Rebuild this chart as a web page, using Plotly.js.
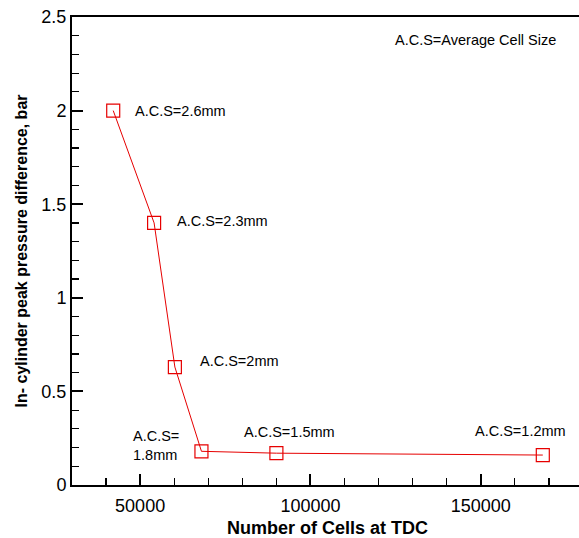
<!DOCTYPE html>
<html>
<head>
<meta charset="utf-8">
<script src="https://cdn.plot.ly/plotly-3.0.1.min.js"></script>
<style>
  html, body { margin: 0; padding: 0; overflow: hidden; background: #fff; }
  #chart { width: 590px; height: 538px; }
</style>
</head>
<body>
<div id="chart"></div>
<script>
// Data
const cellsAtTDC = [42100, 54100, 60200, 68000, 90000, 168200];
const peakPressureDiff = [2.0, 1.4, 0.63, 0.18, 0.17, 0.16];
const cellSizeLabels = ["A.C.S=2.6mm", "A.C.S=2.3mm", "A.C.S=2mm", "A.C.S=<br>1.8mm", "A.C.S=1.5mm", "A.C.S=1.2mm"];
const noteText = "A.C.S=Average Cell Size";
const xTitle = "Number of Cells at TDC";
const yTitle = "In- cylinder peak pressure difference, bar";

// label placements (data coordinates of label anchors)
const labelX = [48000, 60200, 67000, 47300, 79900, 147700];
const labelY = [2.0, 1.41, 0.66, 0.211, 0.283, 0.29];

const FONT = "Liberation Sans, Arial, Helvetica, sans-serif";

const trace = {
  x: cellsAtTDC,
  y: peakPressureDiff,
  mode: "lines+markers",
  type: "scatter",
  line: { color: "rgb(230,0,0)", width: 1 },
  marker: { symbol: "square-open", size: 13, color: "rgb(230,0,0)", line: { width: 1.2, color: "rgb(230,0,0)" } },
  showlegend: false,
  hoverinfo: "x+y"
};

const annotations = cellSizeLabels.map((t, i) => ({
  x: labelX[i], y: labelY[i], xref: "x", yref: "y",
  text: t, showarrow: false, xanchor: "left", yanchor: "middle", align: "left",
  font: { family: FONT, size: 14.5, color: "#000" }
}));
annotations.push({
  x: 124300, y: 2.377, xref: "x", yref: "y", text: noteText, showarrow: false,
  xanchor: "left", yanchor: "middle",
  font: { family: FONT, size: 14.5, color: "#000" }
});

const layout = {
  width: 590, height: 538,
  margin: { l: 72, r: 7, t: 17, b: 53, pad: 0 },
  paper_bgcolor: "#fff", plot_bgcolor: "#fff",
  font: { family: FONT, color: "#000" },
  xaxis: {
    range: [30000, 180000],
    tickvals: [50000, 100000, 150000],
    ticktext: ["50000", "100000", "150000"],
    ticks: "inside", ticklen: 11, tickwidth: 2, tickcolor: "#000",
    ticklabelstandoff: 3,
    minor: { dtick: 10000, tick0: 0, ticks: "inside", ticklen: 7, tickwidth: 1.2, tickcolor: "#000" },
    showline: true, linecolor: "#000", linewidth: 2, mirror: true,
    showgrid: false, zeroline: false,
    tickfont: { family: FONT, size: 18, color: "#000" },
    title: { text: xTitle, font: { family: FONT, size: 18, color: "#000", weight: "bold" }, standoff: 9 }
  },
  yaxis: {
    range: [0, 2.5],
    tickvals: [0, 0.5, 1, 1.5, 2, 2.5],
    ticktext: ["0", "0.5", "1", "1.5", "2", "2.5"],
    ticks: "inside", ticklen: 11, tickwidth: 2, tickcolor: "#000",
    minor: { dtick: 0.1, tick0: 0, ticks: "inside", ticklen: 7, tickwidth: 1.2, tickcolor: "#000" },
    showline: true, linecolor: "#000", linewidth: 2, mirror: true,
    showgrid: false, zeroline: false,
    tickfont: { family: FONT, size: 18, color: "#000" },
    title: { text: yTitle, font: { family: FONT, size: 16, color: "#000", weight: "bold" }, standoff: 10 }
  },
  annotations: annotations
};

Plotly.newPlot("chart", [trace], layout, { displayModeBar: false, staticPlot: true });
</script>
</body>
</html>
